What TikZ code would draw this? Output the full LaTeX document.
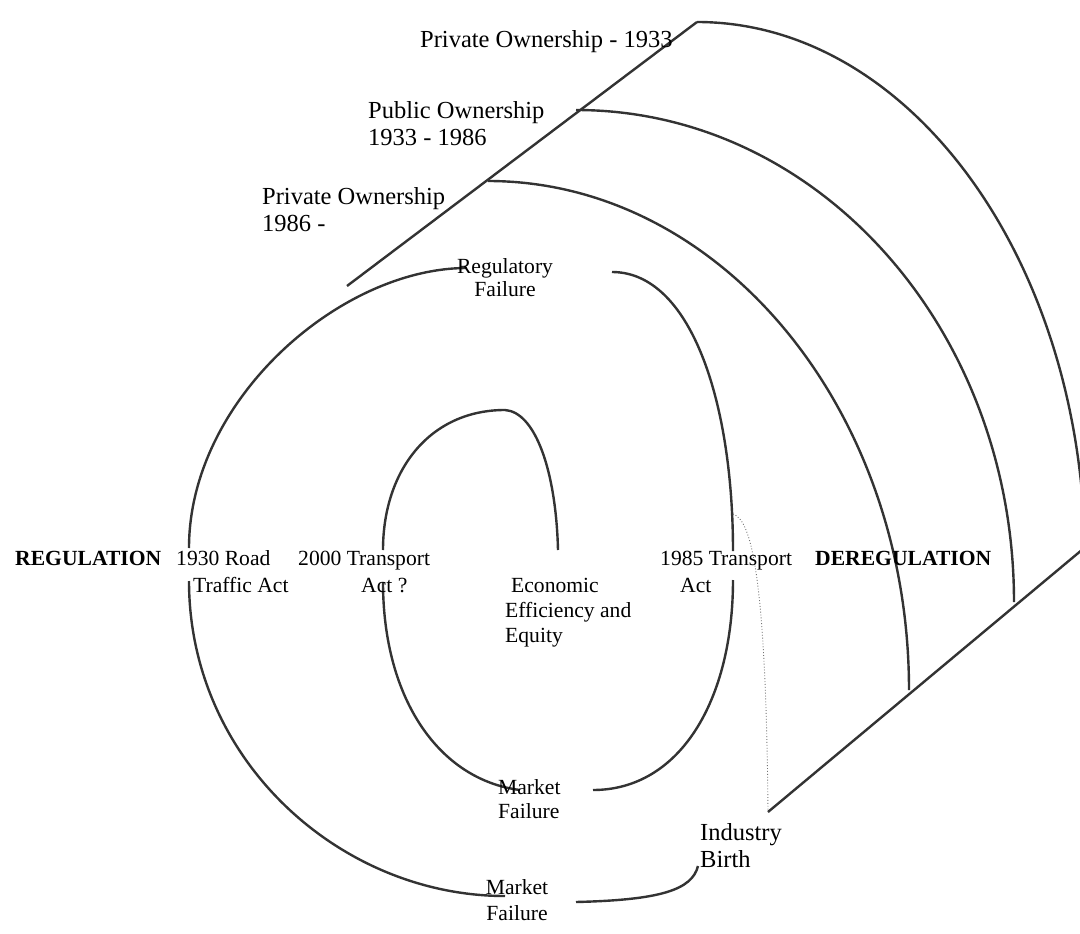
\documentclass[tikz,border=0pt]{standalone}
\usepackage{fontspec}
\setmainfont{Liberation Serif}
\begin{document}
\begin{tikzpicture}[
    x=1pt, y=-1pt,
    curve/.style={line width=2.4pt, draw=black!80},
    lbl/.style={inner sep=0pt, anchor=base west, align=left,
                font=\fontsize{21.6}{26.7}\selectfont},
    biglbl/.style={inner sep=0pt, anchor=base west, align=left,
                font=\fontsize{24.5}{27}\selectfont},
  ]
  \useasboundingbox (0,0) rectangle (1080,934);
  \clip (0,0) rectangle (1080,934);

  % ownership wedge
  \draw[curve] (347,286) -- (697,22);
  \draw[curve] (768,812) -- (1095,539);
  \draw[curve] (697,22) .. controls (911,22) and (1085,263) .. (1085,560);
  \draw[curve] (576,110) .. controls (819,110) and (1014,330) .. (1014,602);
  \draw[curve] (488,181) .. controls (720,181) and (909,409) .. (909,690);

  % regulation spiral, from the outside in
  \draw[curve] (576,902) .. controls (660,900) and (692,890) .. (698,866);
  \draw[curve] (467,268) .. controls (340,268) and (189,400) .. (189,548);
  \draw[curve] (189,581) .. controls (189,760) and (340,896) .. (505,896);
  \draw[curve] (612,272) .. controls (690,272) and (733,400) .. (733,551);
  \draw[curve] (733,580) .. controls (733,700) and (680,790) .. (593,790);
  \draw[curve] (383,550) .. controls (383,470) and (430,410) .. (505,410)
               .. controls (535,412) and (556,470) .. (558,550);
  \draw[curve] (383,582) .. controls (383,700) and (440,780) .. (520,790);
  \draw[black!55, line width=0.9pt, dotted]
    (733,514) .. controls (752,520) and (766,580) .. (768,812);

  % labels sit on the baseline of their last line
  \node[biglbl] (own1) at (420,48) {Private Ownership - 1933};
  \node[biglbl] (own2) at (368,145) {Public Ownership\\1933 - 1986};
  \node[biglbl] (own3) at (262,231) {Private Ownership\\1986 -};

  \node[lbl, anchor=base, align=center,
        font=\fontsize{21.6}{23.5}\selectfont] (regfail) at (505,296.5)
    {Regulatory\\Failure};
  \node[lbl, font=\fontsize{21.6}{26.7}\selectfont\bfseries] (reg) at (15,565)
    {REGULATION};
  \node[lbl] (act1930) at (176,592) {1930 Road\\\hspace*{17pt}Traffic Act};
  \node[lbl] (act2000) at (298,592) {2000 Transport\\\hspace*{63pt}Act ?};
  \node[lbl, font=\fontsize{21.6}{25}\selectfont] (goal) at (505,642)
    {\hspace*{6pt}Economic\\Efficiency and\\Equity};
  \node[lbl] (act1985) at (660,592) {1985 Transport\\\hspace*{20pt}Act};
  \node[lbl, font=\fontsize{21.6}{26.7}\selectfont\bfseries] (dereg) at (815,565)
    {DEREGULATION};
  \node[lbl, font=\fontsize{21.6}{24}\selectfont] (mkt1) at (498,818)
    {Market\\Failure};
  \node[biglbl] (birth) at (700,867) {Industry\\Birth};
  \node[lbl, anchor=base, align=center,
        font=\fontsize{21.6}{26}\selectfont] (mkt2) at (517,920)
    {Market\\Failure};
\end{tikzpicture}
\end{document}
